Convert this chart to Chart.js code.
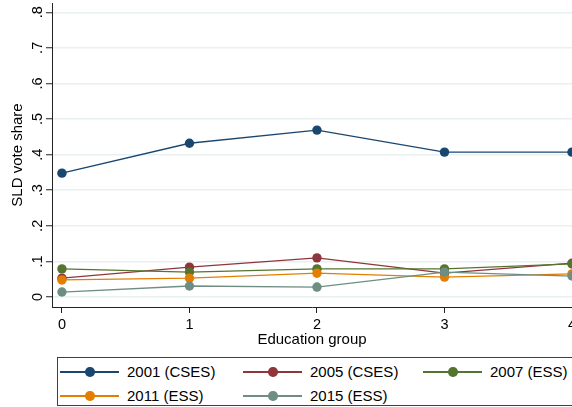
<!DOCTYPE html>
<html>
<head>
<meta charset="utf-8">
<script src="https://cdn.jsdelivr.net/npm/chart.js@4.4.1/dist/chart.umd.min.js"></script>
<style>
html, body { margin: 0; padding: 0; background: #fff; overflow: hidden; }
#wrap { position: relative; width: 572px; height: 407px; overflow: hidden; font-family: "Liberation Sans", Arial, sans-serif; }
#chart { position: absolute; left: 0; top: 0; }
#legendBox { position: absolute; left: 57px; top: 357px; width: 540px; height: 49px; border: 1px solid #404040; box-sizing: border-box; }
.item { position: absolute; height: 20px; font-size: 15px; color: #000; }
.item .ln { position: absolute; left: 0; top: 9px; width: 59px; height: 1.5px; }
.item .dot { position: absolute; left: 25px; top: 5px; width: 9.5px; height: 9.5px; border-radius: 50%; }
.item .txt { position: absolute; left: 67px; top: 1px; white-space: nowrap; }
</style>
</head>
<body>
<div id="wrap">
  <canvas id="chart" width="572" height="352"></canvas>
  <div id="legendBox"></div>
</div>
<script>
// data
const educationGroups = [0, 1, 2, 3, 4];
const seriesNames = ['2001 (CSES)', '2005 (CSES)', '2007 (ESS)', '2011 (ESS)', '2015 (ESS)'];
const share2001 = [0.348, 0.432, 0.469, 0.407, 0.407];
const share2005 = [0.053, 0.084, 0.110, 0.067, 0.095];
const share2007 = [0.079, 0.070, 0.079, 0.079, 0.093];
const share2011 = [0.048, 0.053, 0.067, 0.056, 0.065];
const share2015 = [0.014, 0.031, 0.028, 0.070, 0.059];
const yTicks = [0, 0.1, 0.2, 0.3, 0.4, 0.5, 0.6, 0.7, 0.8];
const yTickLabels = ['0', '.1', '.2', '.3', '.4', '.5', '.6', '.7', '.8'];

const colors = ['#1a476f', '#90353b', '#55752f', '#e37e00', '#6e8e84'];
const allShares = [share2001, share2005, share2007, share2011, share2015];
const FONT = '"Liberation Sans", Arial, sans-serif';

const datasets = allShares.map((vals, i) => ({
    label: seriesNames[i],
    data: educationGroups.map((g, j) => ({ x: g, y: vals[j] })),
    borderColor: colors[i],
    backgroundColor: colors[i],
    borderWidth: 1.3,
    pointRadius: 4.7,
    pointBorderWidth: 0,
    tension: 0,
    order: allShares.length - i   // later series on top, like Stata
}));

// y tick labels are rotated, drawn here
const yLabelPlugin = {
    id: 'yLabels',
    afterDraw(chart) {
        const ctx = chart.ctx;
        const y = chart.scales.y;
        ctx.save();
        ctx.font = '14.5px ' + FONT;
        ctx.fillStyle = '#000';
        ctx.textAlign = 'center';
        ctx.textBaseline = 'middle';
        yTicks.forEach((v, i) => {
            ctx.save();
            ctx.translate(y.right - 14.5, y.getPixelForValue(v));
            ctx.rotate(-Math.PI / 2);
            ctx.fillText(yTickLabels[i], 0, 0);
            ctx.restore();
        });
        ctx.restore();
    }
};

new Chart(document.getElementById('chart'), {
    type: 'line',
    data: { datasets: datasets },
    options: {
        responsive: false,
        animation: false,
        devicePixelRatio: 1,
        layout: { autoPadding: false, padding: { top: 3, left: 0, right: 0, bottom: 0 } },
        plugins: { legend: { display: false }, tooltip: { enabled: false } },
        scales: {
            x: {
                type: 'linear',
                min: -0.078,
                max: 4,
                afterBuildTicks: s => { s.ticks = educationGroups.map(v => ({ value: v })); },
                afterFit: s => { s.height = 45; s.paddingLeft = 0; s.paddingRight = 0; },
                border: { color: '#222', width: 1 },
                grid: { drawOnChartArea: false, drawTicks: true, tickLength: 6, tickColor: '#222', tickWidth: 1 },
                ticks: { color: '#000', font: { family: FONT, size: 14.5 }, padding: 3, maxRotation: 0,
                         callback: v => String(v) },
                title: { display: true, text: 'Education group', color: '#000',
                         font: { family: FONT, size: 15 }, padding: { top: 0, bottom: 3 } }
            },
            y: {
                type: 'linear',
                min: -0.028,
                max: 0.826,
                afterBuildTicks: s => { s.ticks = yTicks.map(v => ({ value: v })); },
                afterFit: s => { s.width = 52; s.paddingTop = 0; s.paddingBottom = 0; },
                border: { color: '#222', width: 1 },
                grid: { color: '#e9f0f1', lineWidth: 1.5, drawTicks: true, tickLength: 6, tickColor: '#222', tickWidth: 1 },
                ticks: { color: 'rgba(0,0,0,0)', font: { family: FONT, size: 14.5 } },
                title: { display: true, text: 'SLD vote share', color: '#000',
                         font: { family: FONT, size: 15 }, padding: { top: 9, bottom: 0 } }
            }
        }
    },
    plugins: [yLabelPlugin]
});

// legend, 3 columns in a box
const legendCols = [60, 243, 423];
const legendRows = [362, 386];
const wrap = document.getElementById('wrap');
seriesNames.forEach((name, i) => {
    const item = document.createElement('div');
    item.className = 'item';
    item.style.left = legendCols[i % 3] + 'px';
    item.style.top = legendRows[Math.floor(i / 3)] + 'px';
    item.innerHTML = '<div class="ln" style="background:' + colors[i] + '"></div>' +
        '<div class="dot" style="background:' + colors[i] + '"></div>' +
        '<div class="txt">' + name + '</div>';
    wrap.appendChild(item);
});
</script>
</body>
</html>
